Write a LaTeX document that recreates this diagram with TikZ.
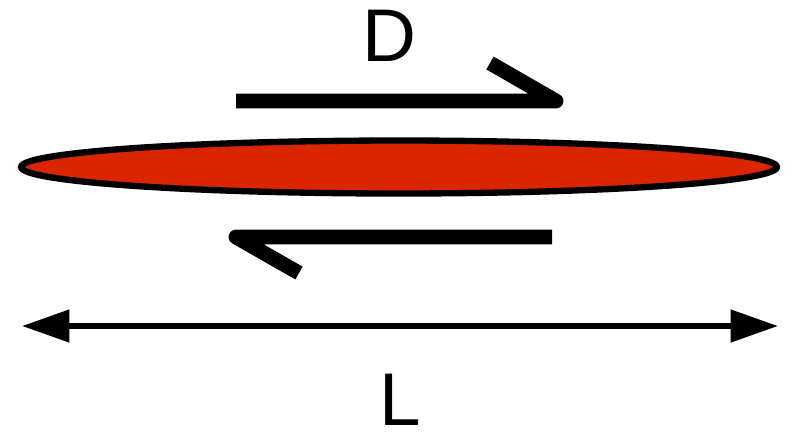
\documentclass[tikz,border=0pt]{standalone}
\usepackage{fontspec}
\setmainfont{Liberation Sans}
\usetikzlibrary{shapes.geometric, arrows.meta, positioning}
\definecolor{rodfill}{HTML}{DA2600}
\tikzset{
  rod/.style={ellipse, draw=black, fill=rodfill, line width=3.6pt, inner sep=0pt, minimum width=15.12cm, minimum height=1.06cm},
  shear/.style={draw=black, line width=8.4pt, line join=round, line cap=butt},
  span/.style={{Triangle[length=27pt, width=18pt]}-{Triangle[length=27pt, width=18pt]}, line width=3.4pt, draw=black},
  lab/.style={font=\fontsize{42.5}{50}\selectfont, inner sep=0pt},
}
\begin{document}
\begin{tikzpicture}[x=0.02cm, y=-0.02cm]
  \useasboundingbox (0,0) rectangle (791,434);
  % rod
  \node[rod] (body) at (399,167) {};
  % shear arrows
  \coordinate (topl) at (236,101);
  \coordinate (topr) at (556,101);
  \coordinate (topb) at (490,63);
  \coordinate (botr) at (552,237);
  \coordinate (botl) at (236,237);
  \coordinate (botb) at (299,273);
  \draw[shear] (topl) -- (topr) -- (topb);
  \draw[shear] (botr) -- (botl) -- (botb);
  % length
  \coordinate (lenl) at (22,326);
  \coordinate (lenr) at (778,326);
  \draw[span] (lenl) -- (lenr);
  \node[lab] (dlab) at (389,36) {D};
  \node[lab] (llab) at (400,400) {L};
\end{tikzpicture}
\end{document}
